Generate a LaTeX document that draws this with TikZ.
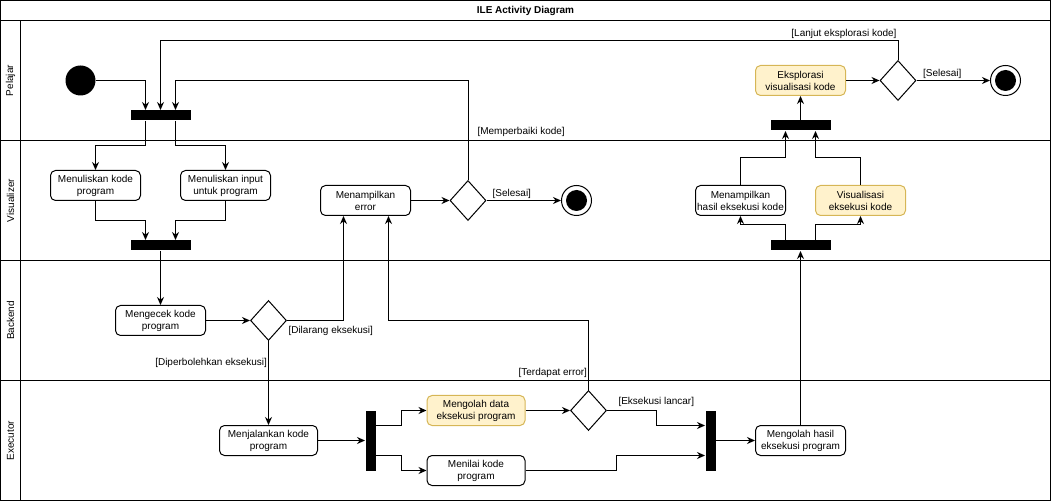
\documentclass[tikz,border=0pt]{standalone}
\usepackage{fontspec}
\setmainfont{Liberation Sans}
\usetikzlibrary{arrows.meta,shapes.geometric}
\definecolor{notefill}{HTML}{FFF2CC}
\definecolor{noteline}{HTML}{D6B656}
\begin{document}
\begin{tikzpicture}[x=1pt,y=-1pt,line width=1pt,
>={Stealth[length=8pt,width=7pt]},
act/.style={rectangle,rounded corners=5pt,draw,minimum width=90pt,minimum height=30pt,inner sep=0pt,align=center,font=\fontsize{10}{12}\selectfont},
wideact/.style={act,minimum width=98pt},
noteact/.style={act,fill=notefill,draw=noteline},
forkbar/.style={rectangle,fill=black,inner sep=0pt,minimum width=60pt,minimum height=10pt},
vforkbar/.style={forkbar,minimum width=10pt,minimum height=60pt},
decision/.style={diamond,draw,inner sep=0pt,minimum width=36pt,minimum height=40pt},
startnode/.style={circle,fill=black,inner sep=0pt,minimum size=30pt},
endnode/.style={circle,draw,fill=white,inner sep=0pt,minimum size=30pt,path picture={\fill [black] (path picture bounding box.center) circle (10.5pt);}},
guard/.style={inner sep=1pt,font=\fontsize{10}{12}\selectfont},
lanename/.style={rotate=90,font=\fontsize{10}{12}\selectfont},
flow/.style={->}]

\useasboundingbox (-0.5,-0.5) rectangle (1051.5,501.5);

\draw (0,0) rectangle (1050,500);
\draw (0,20) -- (1050,20);
\draw (0,140) -- (1050,140);
\draw (0,260) -- (1050,260);
\draw (0,380) -- (1050,380);
\draw (20,20) -- (20,500);

\node (title) at (525,10) [font=\fontsize{10}{12}\selectfont\bfseries] {ILE Activity Diagram};
\node (l1) at (10,80) [lanename] {Pelajar};
\node (l2) at (10,200) [lanename] {Visualizer};
\node (l3) at (10,320) [lanename] {Backend};
\node (l4) at (10,440) [lanename] {Executor};

\node (start) at (80,80) [startnode] {};
\node (bar1) at (160,115) [forkbar] {};
\node (explore) at (800,80) [noteact] {Eksplorasi\\visualisasi kode};
\node (d2) at (897.5,80) [decision] {};
\node (end2) at (1005,80) [endnode] {};
\node (bar4) at (800,125) [forkbar] {};

\node (wA) at (95,185) [act] {Menuliskan kode\\program};
\node (wB) at (225,185) [act] {Menuliskan input\\untuk program};
\node (bar2) at (160,245) [forkbar] {};
\node (err) at (365,200) [act] {Menampilkan\\error};
\node (d1) at (467.5,200) [decision] {};
\node (end1) at (576,200) [endnode] {};
\node (shown) at (740,200) [act] {Menampilkan\\hasil eksekusi kode};
\node (vis) at (860,200) [noteact] {Visualisasi\\eksekusi kode};
\node (bar3) at (800,245) [forkbar] {};

\node (check) at (160,320) [act] {Mengecek kode\\program};
\node (d3) at (268,320) [decision] {};

\node (run) at (268,440) [wideact] {Menjalankan kode\\program};
\node (bar5) at (370,440) [vforkbar] {};
\node (proc) at (475.5,410) [wideact,fill=notefill,draw=noteline] {Mengolah data\\eksekusi program};
\node (grade) at (475.5,470) [wideact] {Menilai kode\\program};
\node (d4) at (588,410) [decision] {};
\node (bar6) at (710,440) [vforkbar] {};
\node (res) at (800,440) [act] {Mengolah hasil\\eksekusi program};

\coordinate (loopA) at (160,40);
\coordinate (loopB) at (175,80);
\coordinate (loopC) at (388,320);

\draw [flow] (start.east) -| ([xshift=-15pt]bar1.north);
\draw [flow] (d2.north) |- node [guard,pos=0.5,anchor=south east] {[Lanjut eksplorasi kode]} (loopA) -- (bar1.north);
\draw [flow] (d1.north) |- node [guard,pos=0.24,anchor=west,xshift=8pt] {[Memperbaiki kode]} (loopB) -- (loopB |- bar1.north);

\draw [flow] ([xshift=-15pt]bar1.south) -- ++(0,25) -| (wA.north);
\draw [flow] ([xshift=15pt]bar1.south) -- ++(0,25) -| (wB.north);
\draw [flow] (wA.south) -- ++(0,20) -| ([xshift=-15pt]bar2.north);
\draw [flow] (wB.south) -- ++(0,20) -| ([xshift=15pt]bar2.north);
\draw [flow] (bar2.south) -- (check.north);

\draw [flow] (check.east) -- (d3.west);
\draw [flow] (d3.east) -| node [guard,pos=0,anchor=north west,yshift=-4pt] {[Dilarang eksekusi]} ([xshift=-22pt]err.south);
\draw [flow] (d3.south) -- node [guard,pos=0.26,anchor=east] {[Diperbolehkan eksekusi]} (run.north);

\draw [flow] (err.east) -- (d1.west);
\draw [flow] (d1.east) -- node [guard,pos=0.34,above] {[Selesai]} (end1.west);

\draw [flow] (run.east) -- (bar5.west);
\draw [flow] ([yshift=15pt]bar5.east) -- ++(25,0) |- (proc.west);
\draw [flow] ([yshift=-15pt]bar5.east) -- ++(25,0) |- (grade.west);
\draw [flow] (proc.east) -- (d4.west);
\draw [flow] (d4.east) -- node [guard,pos=0,anchor=south west,xshift=10pt,yshift=2pt] {[Eksekusi lancar]} ++(49,0) |- ([yshift=15pt]bar6.west);
\draw [flow] (grade.east) -- ++(91,0) |- ([yshift=-15pt]bar6.west);
\draw [flow] (d4.north) |- node [guard,pos=0.12,anchor=east] {[Terdapat error]} (loopC) -- ([xshift=23pt]err.south);
\draw [flow] (bar6.east) -- (res.west);
\draw [flow] (res.north) -- (bar3.south);

\draw [flow] ([xshift=-15pt]bar3.north) -- ++(0,-15) -| (shown.south);
\draw [flow] ([xshift=15pt]bar3.north) -- ++(0,-15) -| (vis.south);
\draw [flow] (shown.north) -- ++(0,-27) -| ([xshift=-15pt]bar4.south);
\draw [flow] (vis.north) -- ++(0,-27) -| ([xshift=15pt]bar4.south);
\draw [flow] (bar4.north) -- (explore.south);
\draw [flow] (explore.east) -- (d2.west);
\draw [flow] (d2.east) -- node [guard,pos=0.35,above] {[Selesai]} (end2.west);

\end{tikzpicture}
\end{document}
